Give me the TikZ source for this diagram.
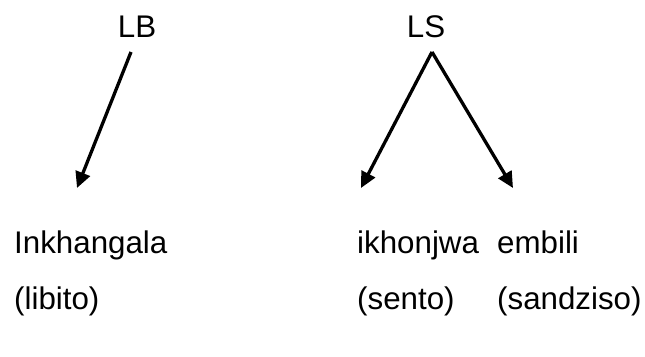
\documentclass[tikz,border=0pt]{standalone}
\usepackage{fontspec}
\setmainfont{Liberation Sans}
\usetikzlibrary{arrows.meta}
\begin{document}
\begin{tikzpicture}[x=1pt,y=1pt,
  lbl/.style={inner sep=0pt,anchor=base west,font=\fontsize{31.3}{37}\selectfont},
  top/.style={inner sep=0pt,anchor=base,font=\fontsize{31.3}{37}\selectfont},
  arr/.style={line width=3.3pt,-{Triangle[length=16pt,width=15pt]}}]
\useasboundingbox (0,0) rectangle (645,356);
% top labels
\node[top] (lb) at (137,318) {LB};
\node[top] (ls) at (426,318) {LS};
% arrow feet/tips
\coordinate (lbfoot) at (131,304);
\coordinate (lstip) at (432,304);
\coordinate (t1) at (77,168);
\coordinate (t2) at (361,168);
\coordinate (t3) at (513,168);
\draw[arr] (lbfoot) -- (t1);
\draw[arr] (lstip) -- (t2);
\draw[arr] (lstip) -- (t3);
% words
\node[lbl] (ink) at (14,102) {Inkhangala};
\node[lbl] (ikh) at (357,102) {ikhonjwa};
\node[lbl] (emb) at (497,102) {embili};
\node[lbl] (lib) at (14,46) {(libito)};
\node[lbl] (sen) at (357,46) {(sento)};
\node[lbl] (san) at (497,46) {(sandziso)};
\end{tikzpicture}
\end{document}
